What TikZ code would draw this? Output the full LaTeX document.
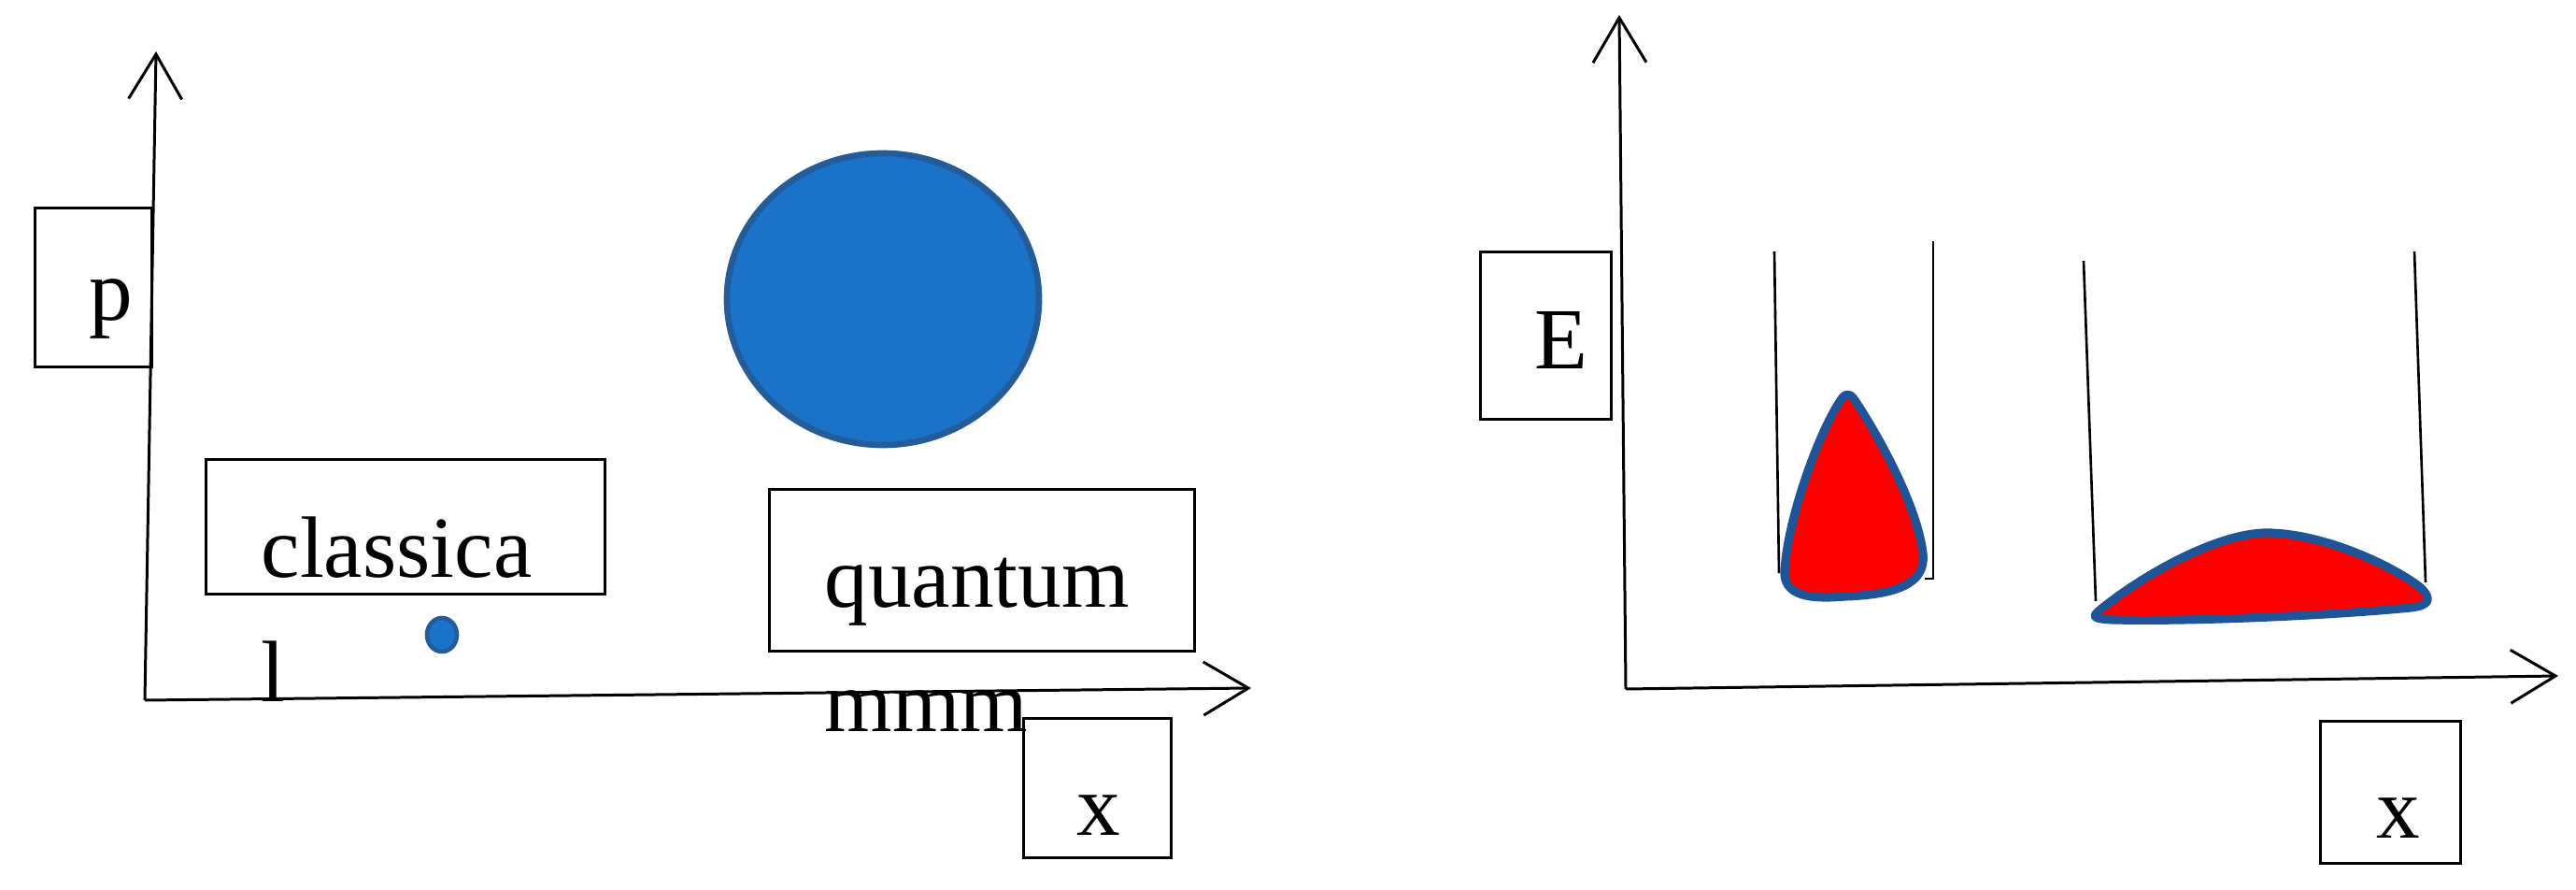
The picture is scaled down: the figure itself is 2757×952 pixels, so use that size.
\documentclass[tikz,border=0pt]{standalone}
\usepackage{fontspec}
\setmainfont{Liberation Serif}
\usetikzlibrary{arrows.meta}
\definecolor{circfill}{HTML}{1A73C8}
\definecolor{circedge}{HTML}{245C99}
\definecolor{dropedge}{HTML}{1F5597}
\begin{document}
\begin{tikzpicture}[x=0.01cm,y=-0.01cm,
  axis/.style={line width=0.85pt, -{Straight Barb[length=0.48cm,width=0.57cm,line width=0.85pt]}},
  box/.style={draw, line width=0.85pt, inner sep=0pt, anchor=north west},
  lbl/.style={font=\fontsize{26.5}{37.8}\selectfont, anchor=base west, inner sep=0pt, align=left},
  well/.style={line width=0.75pt},
  blob/.style={fill=red, draw=dropedge, line width=2.6pt, line join=round}]
\useasboundingbox (0,0) rectangle (2757,952);
\fill[white] (0,0) rectangle (2757,952);

% ---------- left panel ----------
\coordinate (o1) at (155,749);
\coordinate (y1) at (167,55);
\coordinate (x1) at (1339,736);
\draw[axis] (o1) -- (y1);
\draw[axis] (o1) -- (x1);

\node[box, minimum width=1.25cm, minimum height=1.70cm] (pbox) at (36,221) {};
\node[lbl] (ptxt) at (95,343) {p};

\node[box, minimum width=4.27cm, minimum height=1.44cm] (cbox) at (219,490) {};
% anchored at the baseline of the last line
\node[lbl] (ctxt) at (279,750) {classica\\l};

\filldraw[fill=circfill, draw=circedge, line width=1.3pt] (473,679) ellipse [x radius=16, y radius=18];
\filldraw[fill=circfill, draw=circedge, line width=1.9pt] (945,320) ellipse [x radius=167, y radius=156];

\node[box, minimum width=4.55cm, minimum height=1.73cm] (qbox) at (822,522) {};
\node[lbl] (qtxt) at (882,782) {quantum\\mmm};

\node[box, minimum width=1.58cm, minimum height=1.49cm] (xbox1) at (1094,767) {};
\node[lbl] (xtxt1) at (1152,893) {x};

% ---------- right panel ----------
\coordinate (o2) at (1740,737);
\coordinate (y2) at (1733,16);
\coordinate (x2) at (2738,723);
\draw[axis] (o2) -- (y2);
\draw[axis] (o2) -- (x2);

\node[box, minimum width=1.40cm, minimum height=1.79cm] (ebox) at (1583,268) {};
\node[lbl] (etxt) at (1642,395) {E};

\node[box, minimum width=1.50cm, minimum height=1.52cm] (xbox2) at (2482,770) {};
\node[lbl] (xtxt2) at (2543,896) {x};

% wells
\draw[well] (1899,269) -- (1904,613);
\draw[well] (2069,258) -- (2069,619) -- (2060,619);
\draw[well] (2230,279) -- (2243,643);
\draw[well] (2584,269) -- (2596,623);

% narrow packet
\draw[blob] (1970,428)
  .. controls (1945,465) and (1912,560) .. (1910,612)
  .. controls (1909,642) and (1950,640) .. (1975,638)
  .. controls (2028,636) and (2062,625) .. (2058,592)
  .. controls (2052,540) and (2008,462) .. (1985,428)
  .. controls (1980,420) and (1975,420) .. cycle;

% wide packet
\draw[blob] (2248,652)
  .. controls (2300,610) and (2380,568) .. (2430,570)
  .. controls (2490,572) and (2560,605) .. (2590,628)
  .. controls (2605,642) and (2598,648) .. (2580,650)
  .. controls (2500,658) and (2350,665) .. (2262,663)
  .. controls (2240,662) and (2238,660) .. cycle;
\end{tikzpicture}
\end{document}
